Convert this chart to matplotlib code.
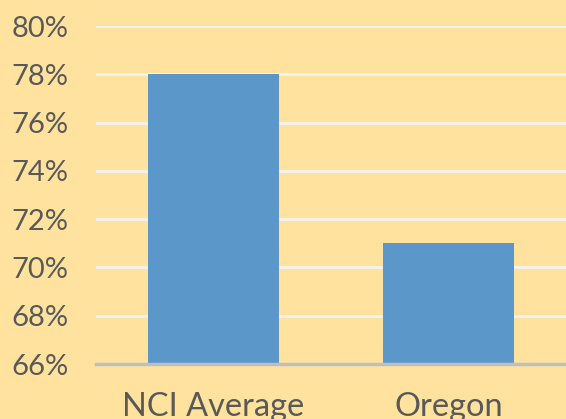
import matplotlib
matplotlib.use("Agg")
import matplotlib.pyplot as plt
from matplotlib.ticker import FuncFormatter

categories = ["NCI Average", "Oregon"]
values = [78, 71]
yticks = [66, 68, 70, 72, 74, 76, 78, 80]

bg = "#FFE29D"
bar_color = "#5B97C9"
text_color = "#595959"

plt.rcParams['font.family'] = ['Lato', 'DejaVu Sans']

fig = plt.figure(figsize=(5.66, 4.19), dpi=100, facecolor=bg)
ax = fig.add_axes([96/566, (419-364)/419, 1 - 96/566, (364-26)/419])
ax.set_facecolor(bg)

x = range(len(categories))
ax.bar(x, values, width=0.557, color=bar_color, zorder=3)
ax.set_xlim(-0.5, len(categories) - 0.5)
ax.set_ylim(66, 80)
ax.set_yticks(yticks)
ax.yaxis.set_major_formatter(FuncFormatter(lambda v, p: f"{v:.0f}%"))
ax.set_xticks(list(x))
ax.set_xticklabels(categories)

ax.grid(axis='y', color='#F2F2F2', linewidth=2, zorder=0)
ax.set_axisbelow(True)
for s in ['top', 'right', 'left']:
    ax.spines[s].set_visible(False)
ax.spines['bottom'].set_color('#BFBFBF')
ax.spines['bottom'].set_linewidth(2.5)
ax.spines['bottom'].set_zorder(4)

ax.tick_params(axis='y', length=0, pad=61, labelsize=21, labelcolor=text_color)
ax.tick_params(axis='x', length=0, pad=20, labelsize=23.4, labelcolor=text_color)
for lbl in ax.get_yticklabels():
    lbl.set_horizontalalignment('left')

fig.savefig("out.png", dpi=100, facecolor=bg)
